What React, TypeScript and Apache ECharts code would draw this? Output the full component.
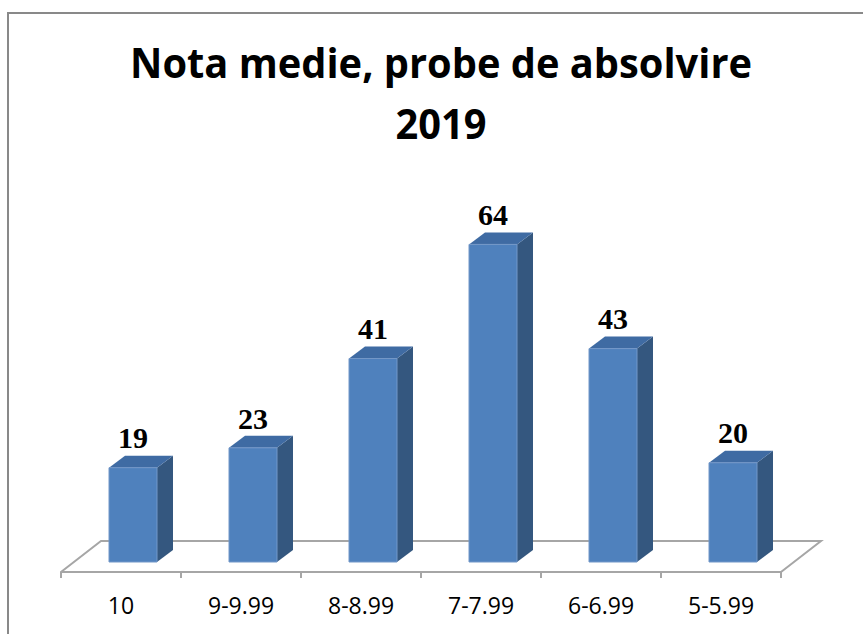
import React, { useEffect, useRef } from 'react';
import * as echarts from 'echarts';

const categories = ['10', '9-9.99', '8-8.99', '7-7.99', '6-6.99', '5-5.99'];
const values = [19, 23, 41, 64, 43, 20];
const titleLines = ['Nota medie, probe de absolvire', '2019'];

const FRONT = '#4F81BD';
const TOP = '#3F6BA3';
const SIDE = '#34577F';
const EDGE = '#7397C8';
const DX = 12;
const DY = -10;
const BDX = 16;
const BDY = -12;
const FDX = 40;
const FDY = -31;

export default function App() {
  const ref = useRef<HTMLDivElement>(null);
  useEffect(() => {
    const chart = echarts.init(ref.current!, null, { renderer: 'svg' });
    const titleFont = 'bold 42px "Open Sans"';
    let sx = 0.86;
    try {
      const c = document.createElement('canvas').getContext('2d');
      if (c) {
        c.font = titleFont;
        const w = c.measureText(titleLines[0]).width;
        if (w > 0) sx = 622 / w;
      }
    } catch (e) {}
    chart.setOption({
      animation: false,
      backgroundColor: '#ffffff',
      grid: { left: 61, right: 82, top: 175, bottom: 62 },
      xAxis: {
        type: 'category',
        data: categories,
        boundaryGap: true,
        axisLine: { show: true, lineStyle: { color: '#a6a6a6', width: 2 } },
        axisTick: { show: true, length: 6, lineStyle: { color: '#a6a6a6', width: 2 } },
        axisLabel: { color: '#000', fontFamily: '"Open Sans"', fontSize: 23, margin: 21 },
        splitLine: { show: false },
      },
      yAxis: { type: 'value', min: 0, max: 80, show: false },
      graphic: [
        {
          type: 'rect',
          shape: { x: 8, y: 13, width: 900, height: 700 },
          style: { fill: 'none', stroke: '#898989', lineWidth: 2 },
          z: -1,
          silent: true,
        },
        {
          type: 'text',
          x: 441,
          y: 62,
          scaleX: sx,
          style: {
            text: titleLines[0],
            x: 0,
            y: 0,
            align: 'center',
            verticalAlign: 'middle',
            fontFamily: '"Open Sans"',
            fontWeight: 'bold',
            fontSize: 42,
            fill: '#000',
          },
        },
        {
          type: 'text',
          x: 441,
          y: 123,
          scaleX: sx,
          style: {
            text: titleLines[1],
            x: 0,
            y: 0,
            align: 'center',
            verticalAlign: 'middle',
            fontFamily: '"Open Sans"',
            fontWeight: 'bold',
            fontSize: 42,
            fill: '#000',
          },
        },
      ],
      series: [
        {
          type: 'custom',
          name: 'floor',
          silent: true,
          z: 1,
          data: [[0, 0]],
          encode: { x: 0, y: 1 },
          renderItem: (params: any, api: any) => {
            const cs = params.coordSys;
            const l = cs.x;
            const r = cs.x + cs.width;
            const b = cs.y + cs.height;
            return {
              type: 'polyline',
              shape: { points: [[l, b], [l + FDX, b + FDY], [r + FDX, b + FDY], [r, b]] },
              style: { stroke: '#a6a6a6', lineWidth: 2, fill: null },
            };
          },
        },
        {
          type: 'custom',
          name: 'Nota medie',
          z: 3,
          data: values.map((v, i) => [i, v]),
          encode: { x: 0, y: 1 },
          renderItem: (params: any, api: any) => {
            const i = api.value(0);
            const v = api.value(1);
            const base = api.coord([i, 0]);
            const top = api.coord([i, v]);
            const band = api.size([1, 0])[0];
            const w = band * 0.4;
            const x0 = base[0] - w / 2 + DX;
            const x1 = x0 + w;
            const yb = base[1] + DY;
            const yt = top[1] + DY;
            return {
              type: 'group',
              children: [
                {
                  type: 'polygon',
                  shape: { points: [[x1, yb], [x1 + BDX, yb + BDY], [x1 + BDX, yt + BDY], [x1, yt]] },
                  style: { fill: SIDE },
                },
                {
                  type: 'polygon',
                  shape: { points: [[x0, yt], [x1, yt], [x1 + BDX, yt + BDY], [x0 + BDX, yt + BDY]] },
                  style: { fill: TOP },
                },
                {
                  type: 'polygon',
                  shape: { points: [[x0, yb], [x1, yb], [x1, yt], [x0, yt]] },
                  style: { fill: FRONT, stroke: EDGE, lineWidth: 1 },
                },
                {
                  type: 'text',
                  style: {
                    text: String(v),
                    x: (x0 + x1) / 2,
                    y: yt + BDY - 17.8,
                    align: 'center',
                    verticalAlign: 'middle',
                    fontFamily: '"Liberation Serif"',
                    fontWeight: 'bold',
                    fontSize: 30,
                    fill: '#000',
                  },
                },
              ],
            };
          },
        },
      ],
    });
    return () => chart.dispose();
  }, []);
  return <div ref={ref} style={{ position: 'fixed', left: 0, top: 0, width: 863, height: 634 }} />;
}
